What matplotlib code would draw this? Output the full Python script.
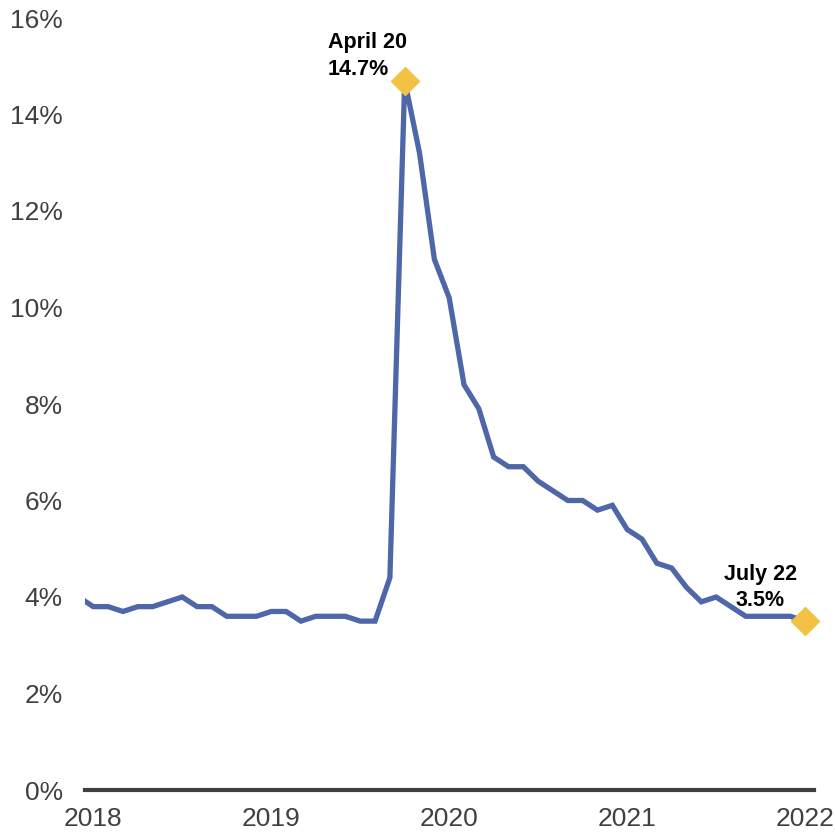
import matplotlib
matplotlib.use("Agg")
import matplotlib.pyplot as plt

plt.rcParams['font.family'] = ['Liberation Sans', 'DejaVu Sans']

# Monthly unemployment rate, June 2018 .. July 2022
months = ["Jun18", "Jul18", "Aug18", "Sep18", "Oct18", "Nov18", "Dec18",
          "Jan19", "Feb19", "Mar19", "Apr19", "May19", "Jun19", "Jul19", "Aug19", "Sep19", "Oct19", "Nov19", "Dec19",
          "Jan20", "Feb20", "Mar20", "Apr20", "May20", "Jun20", "Jul20", "Aug20", "Sep20", "Oct20", "Nov20", "Dec20",
          "Jan21", "Feb21", "Mar21", "Apr21", "May21", "Jun21", "Jul21", "Aug21", "Sep21", "Oct21", "Nov21", "Dec21",
          "Jan22", "Feb22", "Mar22", "Apr22", "May22", "Jun22", "Jul22"]
rate = [4.0, 3.8, 3.8, 3.7, 3.8, 3.8, 3.9,
        4.0, 3.8, 3.8, 3.6, 3.6, 3.6, 3.7, 3.7, 3.5, 3.6, 3.6, 3.6,
        3.5, 3.5, 4.4, 14.7, 13.2, 11.0, 10.2, 8.4, 7.9, 6.9, 6.7, 6.7,
        6.4, 6.2, 6.0, 6.0, 5.8, 5.9, 5.4, 5.2, 4.7, 4.6, 4.2, 3.9,
        4.0, 3.8, 3.6, 3.6, 3.6, 3.6, 3.5]
x_pos = list(range(-1, len(rate) - 1))  # index 0 = Jul 2018

year_ticks = [0, 12, 24, 36, 48]
year_labels = ["2018", "2019", "2020", "2021", "2022"]
y_ticks = [0, 2, 4, 6, 8, 10, 12, 14, 16]
y_labels = [f"{v}%" for v in y_ticks]

highlights = [("Apr20", "April 20\n14.7%"), ("Jul22", "July 22\n3.5%")]

LINE = "#4E67A8"
GOLD = "#F3C244"
GRAY = "#404040"

fig = plt.figure(figsize=(8.35, 8.34), dpi=100)
ax = fig.add_axes([85/835, 44/834, (814-85)/835, (790-18)/834])

ax.plot(x_pos, rate, color=LINE, lw=3.8, solid_joinstyle='miter', zorder=2)

for key, label in highlights:
    i = months.index(key)
    ax.plot(x_pos[i], rate[i], marker='D', ms=14, color=GOLD, mec=GOLD,
            clip_on=False, zorder=3)

# annotations
i = months.index("Apr20")
ax.annotate(highlights[0][1], (x_pos[i], rate[i]), xytext=(-77, 49),
            textcoords='offset pixels', ha='left', va='top', fontsize=15.5,
            fontweight='bold', color='black', linespacing=1.38)
i = months.index("Jul22")
ax.annotate(highlights[1][1], (x_pos[i], rate[i]), xytext=(-45, 57),
            textcoords='offset pixels', ha='center', va='top', fontsize=15.5,
            fontweight='bold', color='black', linespacing=1.3,
            multialignment='center')

ax.set_xlim(-0.56, 48.6)
ax.set_ylim(0, 16)
ax.set_xticks(year_ticks)
ax.set_xticklabels(year_labels)
ax.set_yticks(y_ticks)
ax.set_yticklabels(y_labels)
ax.tick_params(axis='both', length=0, labelsize=19, colors=GRAY)
ax.tick_params(axis='y', pad=16)
ax.tick_params(axis='x', pad=12)

for s in ['top', 'right', 'left']:
    ax.spines[s].set_visible(False)
ax.spines['bottom'].set_color(GRAY)
ax.spines['bottom'].set_linewidth(3)
ax.spines['bottom'].set_zorder(1)

fig.savefig("out.png", dpi=100)
